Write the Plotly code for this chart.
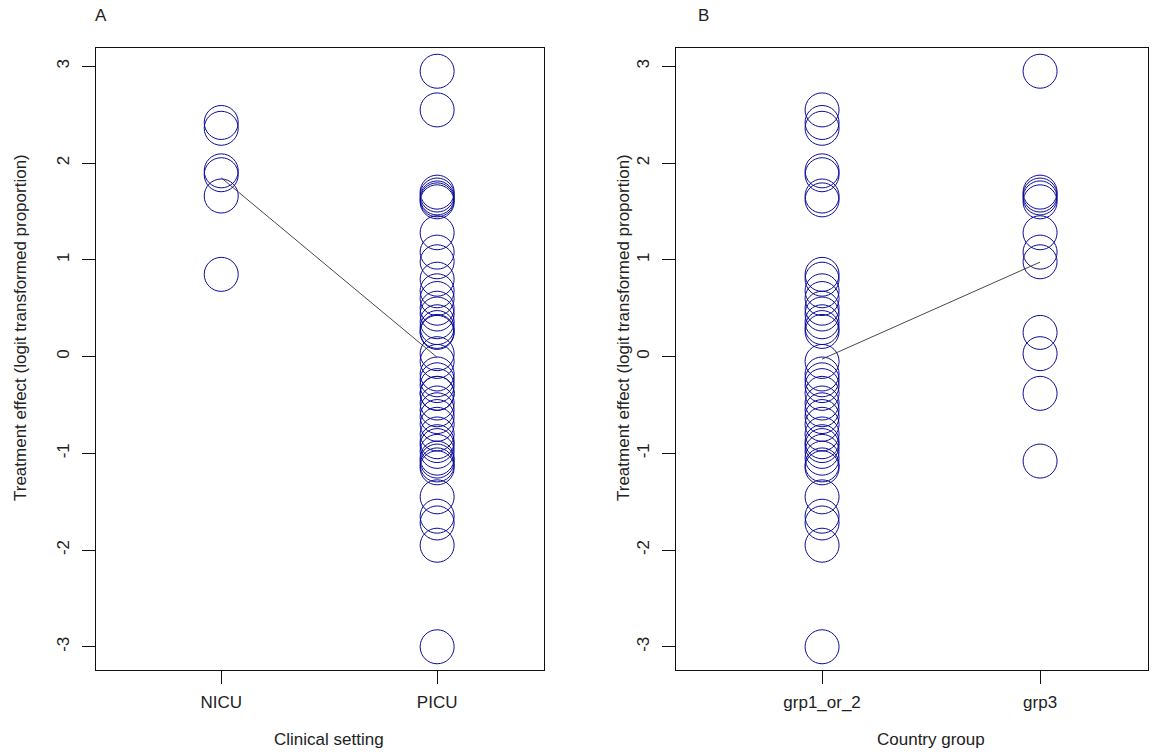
import numpy as np
import plotly.graph_objects as go

# ---- data ----
settings = ["NICU", "PICU"]
groups = ["grp1_or_2", "grp3"]

nicu_values = [2.42, 2.36, 1.92, 1.88, 1.66, 0.85]
picu_grp3_values = [2.95, 1.70, 1.67, 1.64, 1.60, 1.28, 1.08, 0.98, 0.25, 0.03, -0.38, -1.08]
picu_grp12_values = [2.55, 1.62, 0.80, 0.68, 0.60, 0.50, 0.44, 0.36, 0.30, 0.26,
                     -0.05, -0.18, -0.24, -0.30, -0.38, -0.48, -0.55, -0.62, -0.70,
                     -0.80, -0.88, -0.92, -0.98, -1.05, -1.12, -1.15, -1.45, -1.65,
                     -1.72, -1.95, -3.00]

y_ticks = [-3, -2, -1, 0, 1, 2, 3]
y_tick_labels = ["-3", "-2", "-1", "0", "1", "2", "3"]

picu_values = picu_grp3_values + picu_grp12_values
grp12_values = nicu_values + picu_grp12_values
grp3_values = picu_grp3_values

W, H = 1156, 752
def px(x): return x / W
def py(y): return 1 - y / H

MARK = dict(symbol="circle-open", size=34, color="#0a0a9a", line=dict(width=1, color="#0a0a9a"))
TXT = "#222222"
FONT = "Liberation Sans, Arial, sans-serif"
FS = 17

fig = go.Figure()

def add_panel(xref, yref, vals_a, vals_b):
    xa = [1] * len(vals_a) + [2] * len(vals_b)
    ya = list(vals_a) + list(vals_b)
    fig.add_trace(go.Scatter(x=xa, y=ya, mode="markers", marker=MARK,
                             xaxis=xref, yaxis=yref, showlegend=False, hoverinfo="y"))
    fig.add_trace(go.Scatter(x=[1, 2], y=[np.mean(vals_a), np.mean(vals_b)], mode="lines",
                             line=dict(color="#333333", width=0.9),
                             xaxis=xref, yaxis=yref, showlegend=False, hoverinfo="skip"))

add_panel("x", "y", nicu_values, picu_values)
add_panel("x2", "y2", grp12_values, grp3_values)

ax_common = dict(showgrid=False, zeroline=False, showline=True, mirror=True,
                 linecolor="#111111", linewidth=1, ticks="outside", ticklen=13,
                 tickcolor="#111111", tickfont=dict(family=FONT, size=FS, color=TXT))

fig.update_layout(
    width=W, height=H, paper_bgcolor="white", plot_bgcolor="white",
    margin=dict(l=0, r=0, t=0, b=0),
    xaxis=dict(domain=[px(96), px(544)], range=[0.42, 2.495], tickvals=[1, 2],
               ticktext=settings, anchor="y", ticklabelstandoff=4, **ax_common),
    yaxis=dict(domain=[py(670), py(48)], range=[-3.24, 3.19], tickvals=y_ticks,
               ticktext=y_tick_labels, tickangle=-90, anchor="x",
               ticklabelstandoff=6, **ax_common),
    xaxis2=dict(domain=[px(676), px(1148)], range=[0.33, 2.495], tickvals=[1, 2],
                ticktext=groups, anchor="y2", ticklabelstandoff=4, **ax_common),
    yaxis2=dict(domain=[py(670), py(48)], range=[-3.24, 3.19], tickvals=y_ticks,
                ticktext=y_tick_labels, tickangle=-90, anchor="x2",
                ticklabelstandoff=6, **ax_common),
)

ann = dict(showarrow=False, xref="paper", yref="paper", xanchor="center", yanchor="middle",
           font=dict(family=FONT, size=FS, color=TXT))
fig.add_annotation(text="A", x=px(101), y=py(15), **ann)
fig.add_annotation(text="B", x=px(703), y=py(15), **ann)
fig.add_annotation(text="Clinical setting", x=px(329), y=py(739), **ann)
fig.add_annotation(text="Country group", x=px(931), y=py(739), **ann)
fig.add_annotation(text="Treatment effect (logit transformed proportion)", textangle=-90,
                   x=px(20), y=py(328), **ann)
fig.add_annotation(text="Treatment effect (logit transformed proportion)", textangle=-90,
                   x=px(623), y=py(328), **ann)

fig.write_html("out.html", config={"displayModeBar": False},
               post_script="document.body.style.margin='0px';document.body.style.overflow='hidden';")
